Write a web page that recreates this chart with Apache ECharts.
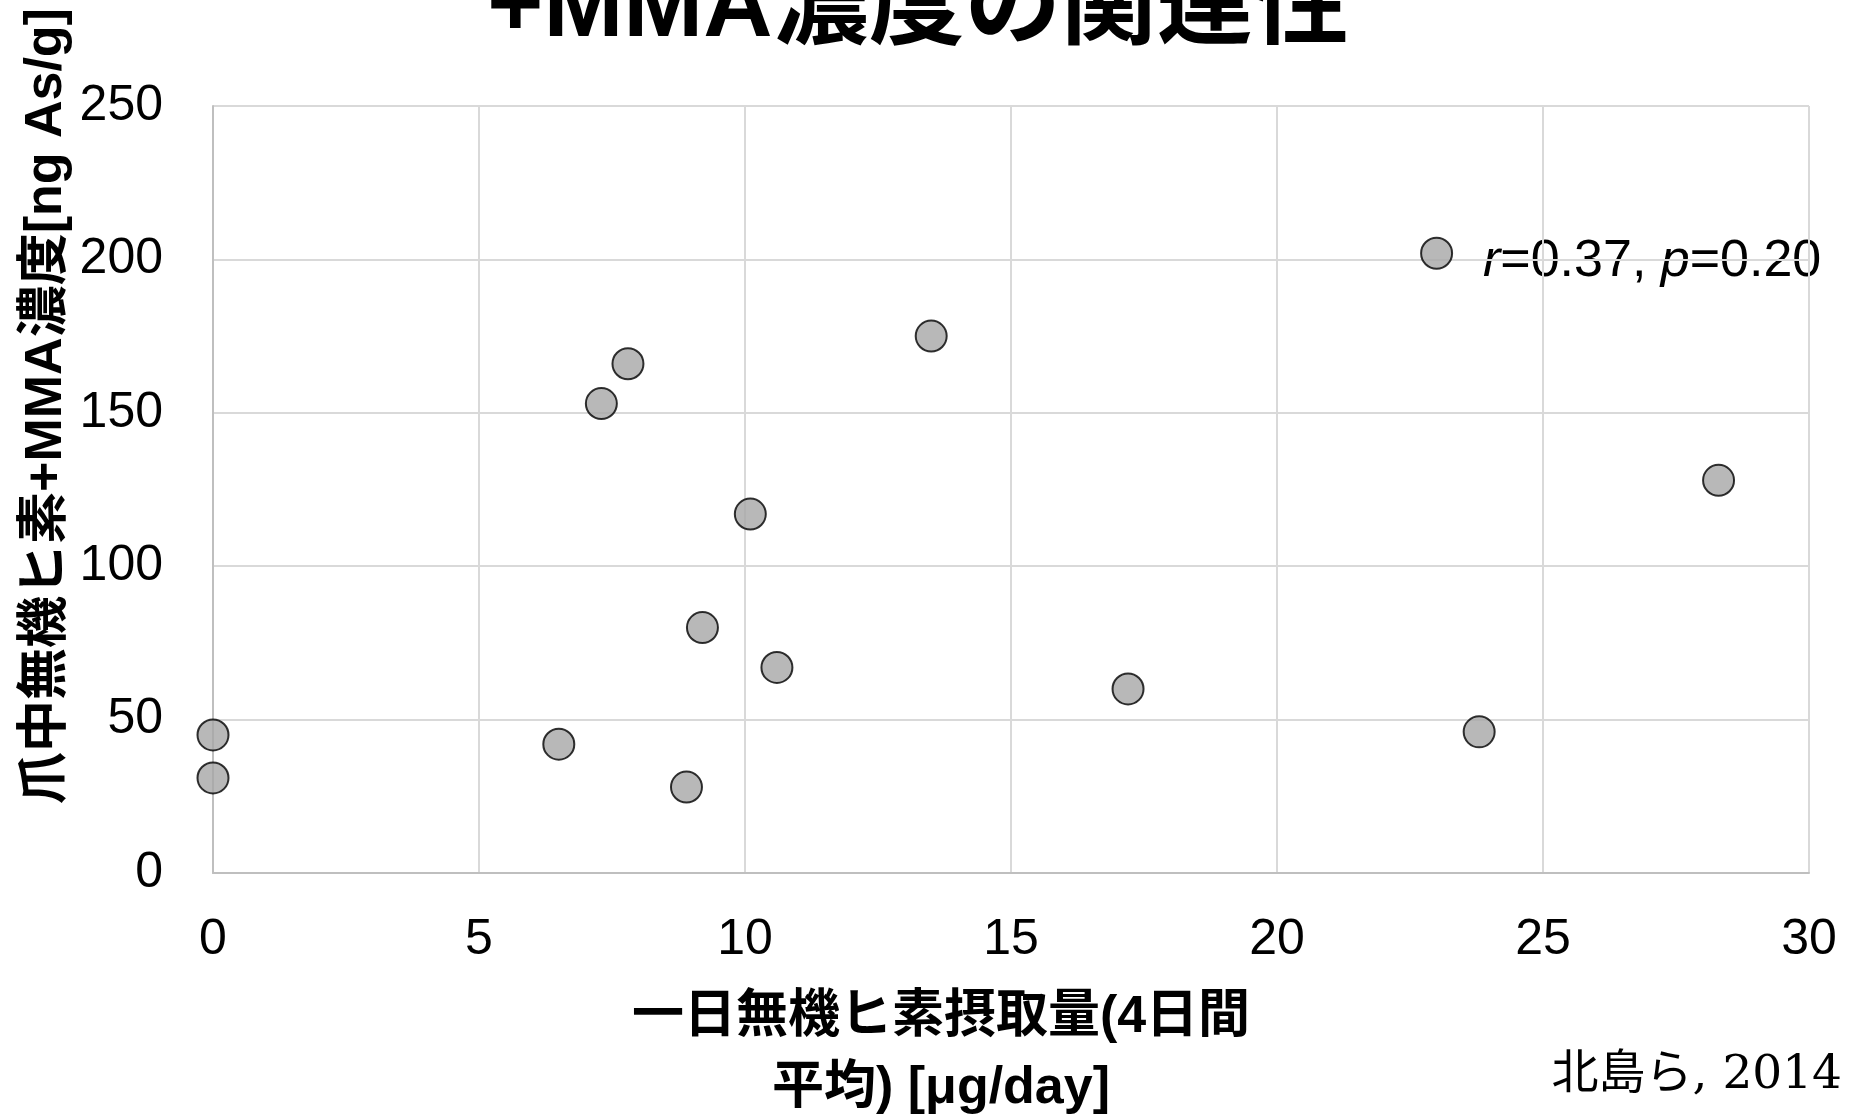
<!DOCTYPE html>
<html>
<head>
<meta charset="utf-8">
<title>一日無機ヒ素摂取量と爪中無機ヒ素+MMA濃度</title>
<script src="https://cdn.jsdelivr.net/npm/echarts@6/dist/echarts.min.js"></script>
<style>
  html, body { margin: 0; padding: 0; background: #ffffff; }
  #chart { width: 1850px; height: 1117px; }
</style>
</head>
<body>
<div id="chart"></div>
<script>
// Daily inorganic arsenic intake (4-day mean, µg/day) vs nail iAs+MMA (ng As/g)
const intake = [0, 0, 6.5, 7.3, 7.8, 8.9, 9.2, 10.1, 10.6, 13.5, 17.2, 23.0, 23.8, 28.3];
const nailConc = [45, 31, 42, 153, 166, 28, 80, 117, 67, 175, 60, 202, 46, 128];

const xTicks = { min: 0, max: 30, interval: 5 };
const yTicks = { min: 0, max: 250, interval: 50 };

const titleText = '+MMA濃度の関連性';
const xName = '一日無機ヒ素摂取量(4日間\n平均) [μg/day]';
const yName = '爪中無機ヒ素+MMA濃度[ng As/g]';
const statsR = '0.37';
const statsP = '0.20';
const citation = '北島ら, 2014';

const SANS = '"Liberation Sans", Arial, "Noto Sans CJK JP", sans-serif';
const SERIF = '"DejaVu Serif", "Liberation Serif", "Noto Sans CJK JP", serif';

const points = intake.map((x, i) => [x, nailConc[i]]);

const chart = echarts.init(document.getElementById('chart'), null, { renderer: 'canvas' });

chart.setOption({
  backgroundColor: '#ffffff',
  animation: false,
  grid: { left: 213, top: 106, right: 41, bottom: 244, containLabel: false },
  xAxis: {
    type: 'value',
    min: xTicks.min, max: xTicks.max, interval: xTicks.interval,
    axisLine: { show: true, onZero: false, lineStyle: { color: '#bfbfbf', width: 2 } },
    axisTick: { show: false },
    splitLine: { show: true, lineStyle: { color: '#d9d9d9', width: 2 } },
    axisLabel: { color: '#000', fontFamily: SANS, fontSize: 50, margin: 42 }
  },
  yAxis: {
    type: 'value',
    min: yTicks.min, max: yTicks.max, interval: yTicks.interval,
    axisLine: { show: true, lineStyle: { color: '#bfbfbf', width: 2 } },
    axisTick: { show: false },
    splitLine: { show: true, lineStyle: { color: '#d9d9d9', width: 2 } },
    axisLabel: { color: '#000', fontFamily: SANS, fontSize: 50, margin: 50 }
  },
  series: [{
    type: 'scatter',
    data: points,
    symbol: 'circle',
    symbolSize: 31,
    itemStyle: { color: '#a6a6a6', borderColor: '#000', borderWidth: 2 },
    emphasis: { disabled: true },
    z: 5
  }],
  graphic: [
    {
      type: 'text', x: 918, y: -38,
      style: { text: titleText, font: 'bold 96px ' + SANS, fill: '#000', align: 'center', verticalAlign: 'top' }
    },
    {
      type: 'text', x: 941, y: 1053,
      style: {
        text: xName, font: 'bold 52px ' + SANS, fill: '#000',
        align: 'center', verticalAlign: 'middle', lineHeight: 71
      }
    },
    {
      type: 'text', x: 47, y: 406, rotation: Math.PI / 2,
      style: {
        text: yName, font: 'bold 52px ' + SANS, fill: '#000',
        align: 'center', verticalAlign: 'middle'
      }
    },
    {
      type: 'text', x: 1483, y: 262,
      style: {
        text: '{i|r}=' + statsR + ', {i|p}=' + statsP,
        font: '52px ' + SANS, fill: '#000', verticalAlign: 'middle',
        rich: { i: { fontStyle: 'italic', fontFamily: SANS, fontSize: 52, fill: '#000' } }
      }
    },
    {
      type: 'text', x: 1842, y: 1076,
      style: {
        text: citation, font: '47px ' + SERIF, fill: '#000',
        align: 'right', verticalAlign: 'middle'
      }
    }
  ]
});
</script>
</body>
</html>
